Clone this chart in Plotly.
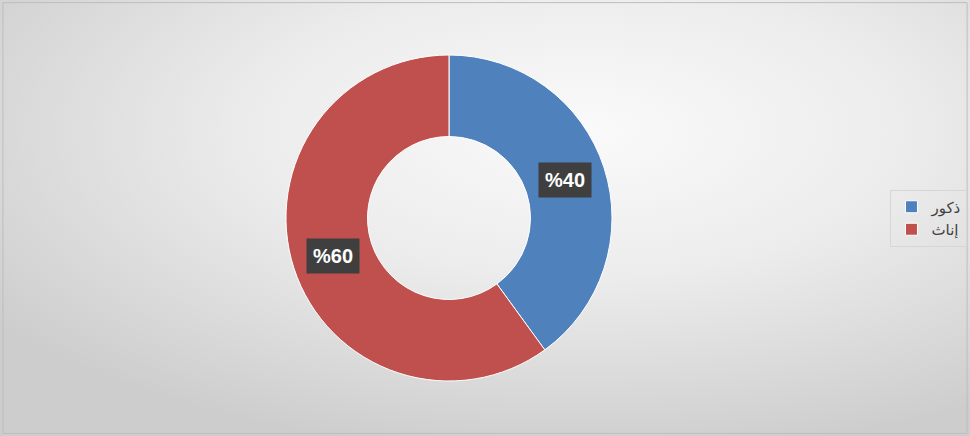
import math
import base64
import plotly.graph_objects as go

# ---- data ----
labels = ["ذكور", "إناث"]
values = [40, 60]
label_texts = ["%40", "%60"]
colors = ["#4F81BD", "#C0504D"]

W, H = 970, 436
cx_px, cy_px, R = 449, 218, 163
hole = 0.5

dom_x = [(cx_px - R) / W, (cx_px + R) / W]
dom_y = [(H - cy_px - R) / H, (H - cy_px + R) / H]

fig = go.Figure()
fig.add_trace(go.Pie(
    labels=labels,
    values=values,
    hole=hole,
    sort=False,
    direction="clockwise",
    rotation=0,
    marker=dict(colors=colors, line=dict(color="white", width=1)),
    textinfo="none",
    hoverinfo="label+percent",
    domain=dict(x=dom_x, y=dom_y),
))

# data labels placed at the middle of each ring segment (computed from values)
total = sum(values)
cum = 0
r_mid = R * (1 + hole) / 2
cxp = (dom_x[0] + dom_x[1]) / 2
cyp = (dom_y[0] + dom_y[1]) / 2
for v, t in zip(values, label_texts):
    mid = (cum + v / 2) / total * 2 * math.pi
    cum += v
    ax = cxp + r_mid * math.sin(mid) / W
    ay = cyp + r_mid * math.cos(mid) / H
    fig.add_annotation(
        x=ax, y=ay, xref="paper", yref="paper",
        text=f"<b>{t}</b>", showarrow=False,
        font=dict(family="Liberation Sans, Arial", size=20, color="white"),
        bgcolor="#3f3f3f", borderpad=6,
        xanchor="center", yanchor="middle",
    )

svg = f'''<svg xmlns="http://www.w3.org/2000/svg" width="{W}" height="{H}">
<defs><radialGradient id="g" cx="0.6" cy="0.3" r="0.75">
<stop offset="0" stop-color="#fafafa"/>
<stop offset="0.45" stop-color="#ececec"/>
<stop offset="1" stop-color="#cdcdcd"/>
</radialGradient></defs>
<rect width="100%" height="100%" fill="url(#g)"/>
</svg>'''
src = "data:image/svg+xml;base64," + base64.b64encode(svg.encode()).decode()

fig.update_layout(
    width=W, height=H,
    margin=dict(l=0, r=0, t=0, b=0),
    paper_bgcolor="#e6e6e6",
    plot_bgcolor="rgba(0,0,0,0)",
    images=[dict(source=src, xref="paper", yref="paper", x=0, y=1,
                 sizex=1, sizey=1, sizing="stretch", layer="below")],
    showlegend=True,
    legend=dict(
        x=0.918, y=0.5, xanchor="left", yanchor="middle",
        font=dict(family="DejaVu Sans, Arial", size=15, color="#404040"),
        bgcolor="rgba(255,255,255,0)",
        bordercolor="#d6d6d6", borderwidth=1,
        itemwidth=30,
    ),
    shapes=[dict(type="rect", xref="paper", yref="paper",
                 x0=0.003, y0=0.006, x1=0.997, y1=0.994,
                 line=dict(color="#bdbdbd", width=1), fillcolor="rgba(0,0,0,0)")],
)

fig.write_html("out.html")
